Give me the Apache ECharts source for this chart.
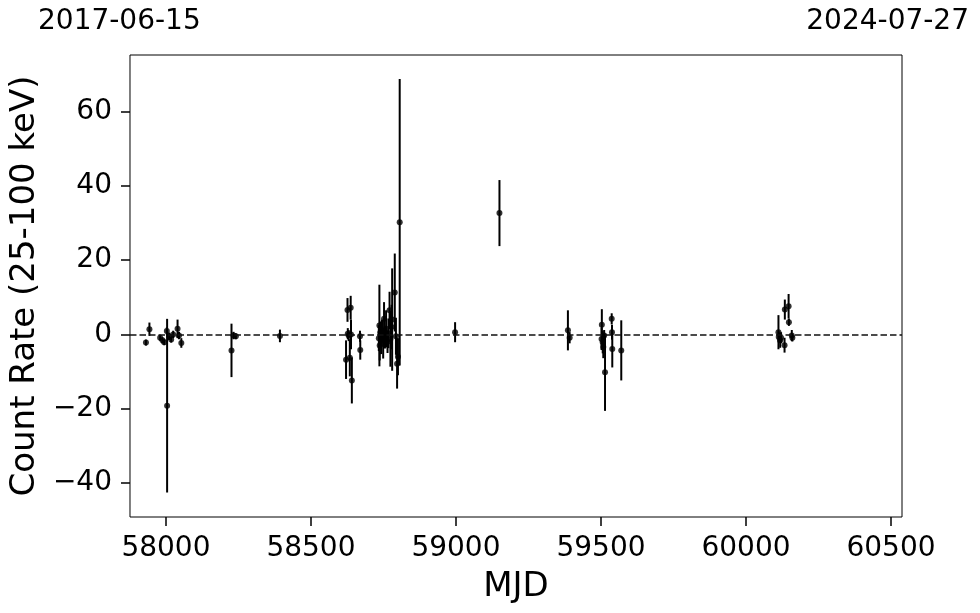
<!DOCTYPE html>
<html>
<head>
<meta charset="utf-8">
<script src="https://cdn.jsdelivr.net/npm/echarts@6/dist/echarts.min.js"></script>
<style>
html,body{margin:0;padding:0;background:#fff;}
#chart{width:980px;height:613px;}
</style>
</head>
<body>
<div id="chart"></div>
<script>
// ---- data ----
const mjd = [
  57931, 57943, 57980, 57988, 57994, 58004, 58003, 58011, 58018, 58025, 58040, 58045, 58053,
  58226, 58233, 58241, 58393,
  58621, 58626, 58627, 58630, 58634, 58637, 58638, 58641, 58669, 58670,
  58734, 58736, 58737, 58739, 58742, 58745, 58749, 58752, 58755, 58759, 58764, 58767,
  58771, 58774, 58778, 58780, 58789, 58793, 58797, 58800, 58806,
  58997, 59150, 59386, 59392,
  59502, 59503, 59506, 59508, 59511, 59514, 59537, 59538, 59539, 59570,
  60112, 60113, 60118, 60121, 60133, 60134, 60147, 60148, 60158, 60160
];
const rate = [
  -2.2, 1.4, -0.9, -1.6, -2.1, -19.2, 0.9, -0.5, -1.4, 0.0, 1.5, -0.3, -2.3,
  -4.3, -0.3, -0.5, -0.4,
  -6.8, 6.6, 0.2, -0.3, -6.3, 7.2, 0.0, -12.4, -0.5, -4.2,
  -1.0, 2.4, -3.0, 0.5, -1.8, 1.0, -2.5, 4.2, -0.8, 1.5, -2.0, 0.3,
  6.5, -1.2, 2.0, 4.0, 11.3, -0.5, -7.9, -6.0, 30.2,
  0.6, 32.7, 1.1, -0.9,
  -1.2, 2.6, -2.1, -3.4, -0.3, -10.2, 4.2, 0.6, -3.9, -4.3,
  0.6, -0.7, -1.6, -0.9, -2.9, 6.7, 7.6, 3.3, -0.3, -0.9
];
const err = [
  0.8, 1.8, 0.8, 0.8, 0.8, 23.4, 1.0, 1.0, 0.8, 1.0, 2.5, 1.0, 1.3,
  7.2, 1.0, 0.8, 1.7,
  5.2, 3.2, 1.5, 1.5, 5.0, 3.2, 4.0, 6.2, 1.5, 2.6,
  3.5, 11.0, 4.0, 3.0, 3.5, 3.0, 4.0, 4.5, 3.0, 5.0, 3.0, 4.0,
  5.0, 7.5, 6.0, 13.8, 10.5, 5.0, 6.7, 5.0, 38.6,
  2.7, 8.9, 5.4, 1.5,
  3.0, 4.2, 3.0, 3.0, 1.5, 10.4, 1.5, 2.0, 5.0, 8.1,
  4.6, 1.5, 2.0, 1.5, 2.0, 2.7, 3.3, 1.0, 1.5, 1.0
];
const xRange = [57876, 60538];
const yRange = [-49.2, 75.3];
const topLabels = ['2017-06-15', '2024-07-27'];
const xTitle = 'MJD';
const yTitle = 'Count Rate (25-100 keV)';

const pts = mjd.map((m, i) => [m, rate[i], err[i]]);
const font = 'DejaVu Sans';

const chart = echarts.init(document.getElementById('chart'), null, {renderer: 'canvas'});
chart.setOption({
  animation: false,
  backgroundColor: '#fff',
  grid: {left: 128, right: 78, top: 55, bottom: 96, show: true, borderColor: '#000', borderWidth: 1, backgroundColor: 'transparent'},
  xAxis: {
    type: 'value', min: xRange[0], max: xRange[1], splitNumber: 5,
    name: xTitle, nameLocation: 'middle', nameGap: 53,
    nameTextStyle: {fontFamily: font, fontSize: 34, color: '#000'},
    axisLine: {show: false, onZero: false},
    axisTick: {show: true, inside: false, length: 9, lineStyle: {color: '#000', width: 1.5}},
    axisLabel: {fontFamily: font, fontSize: 28, color: '#000', margin: 18, showMinLabel: false, showMaxLabel: false,
      formatter: v => String(v)},
    splitLine: {show: false}
  },
  yAxis: {
    type: 'value', min: yRange[0], max: yRange[1], splitNumber: 6,
    name: yTitle, nameLocation: 'middle', nameGap: 76, nameRotate: 90,
    nameTextStyle: {fontFamily: font, fontSize: 34, color: '#000'},
    axisLine: {show: false, onZero: false},
    axisTick: {show: true, inside: false, length: 9, lineStyle: {color: '#000', width: 1.5}},
    axisLabel: {fontFamily: font, fontSize: 28, color: '#000', margin: 18, showMinLabel: false, showMaxLabel: false,
      formatter: v => (v < 0 ? '\u2212' + Math.abs(v) : String(v))},
    splitLine: {show: false}
  },
  graphic: [
    {type: 'text', left: 38, top: 8, style: {text: topLabels[0], fontFamily: font, fontSize: 28, fill: '#000'}},
    {type: 'text', right: 11, top: 8, style: {text: topLabels[1], fontFamily: font, fontSize: 28, fill: '#000'}}
  ],
  series: [
    {
      type: 'custom', clip: true, z: 2,
      data: pts,
      renderItem: function (params, api) {
        const x = api.value(0), y = api.value(1), e = api.value(2);
        const a = api.coord([x, y + e]);
        const b = api.coord([x, y - e]);
        return {type: 'line', shape: {x1: a[0], y1: a[1], x2: b[0], y2: b[1]},
          style: {stroke: '#000', lineWidth: 2}};
      }
    },
    {
      type: 'scatter', z: 3, symbol: 'circle', symbolSize: 6,
      itemStyle: {color: '#000'},
      data: pts.map(p => [p[0], p[1]]),
      markLine: {
        silent: true, symbol: ['none', 'none'], label: {show: false},
        lineStyle: {color: '#111', width: 1.6, type: [6.5, 3]},
        data: [{yAxis: 0}]
      }
    }
  ]
});
</script>
</body>
</html>
